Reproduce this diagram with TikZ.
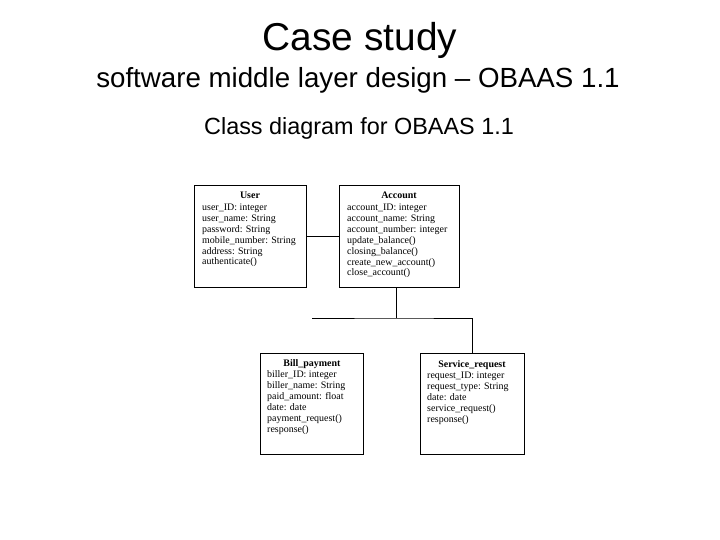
\documentclass[tikz,border=0pt]{standalone}
\usepackage{fontspec}
\setmainfont{Liberation Serif}
\newfontfamily\arialfont{Liberation Sans}
\begin{document}
\begin{tikzpicture}[x=1bp,y=-1bp,
  classbox/.style={draw=black,line width=0.9bp,rectangle,inner sep=0pt,anchor=north west},
  ctitle/.style={font=\fontsize{10}{11}\selectfont\bfseries,anchor=base,inner sep=0pt},
  cbody/.style={font=\fontsize{10}{11}\selectfont,anchor=base west,align=left,inner sep=0pt},
  conn/.style={draw=black,line width=0.9bp}]
\useasboundingbox (0,0) rectangle (720,540);
% titles
\node[font=\arialfont\fontsize{39}{42}\selectfont,anchor=base] (t1) at (360,51) {Case study};
\node[font=\arialfont\fontsize{27.8}{30}\selectfont,anchor=base] (t2) at (358,88) {software middle layer design – OBAAS 1.1};
\node[font=\arialfont\fontsize{23.5}{26}\selectfont,anchor=base] (t3) at (359,135) {Class diagram for OBAAS 1.1};
% boxes
\node[classbox,minimum width=112bp,minimum height=102bp] (user) at (194,185) {};
\node[classbox,minimum width=120bp,minimum height=102bp] (account) at (339,185) {};
\node[classbox,minimum width=103bp,minimum height=101bp] (bill) at (260,353) {};
\node[classbox,minimum width=104bp,minimum height=101bp] (service) at (420,353) {};
% User (base anchor = baseline of last line)
\node[ctitle] (usert) at (250,199) {User};
\node[cbody] (userb) at (202,265) {user\_ID: integer\\user\_name: String\\password: String\\mobile\_number: String\\address: String\\authenticate()};
% Account
\node[ctitle] (acct) at (399,199) {Account};
\node[cbody] (accb) at (347,276) {account\_ID: integer\\account\_name: String\\account\_number: integer\\update\_balance()\\closing\_balance()\\create\_new\_account()\\close\_account()};
% Bill
\node[ctitle] (billt) at (312,366) {Bill\_payment};
\node[cbody] (billb) at (267,432) {biller\_ID: integer\\biller\_name: String\\paid\_amount: float\\date: date\\payment\_request()\\response()};
% Service
\node[ctitle] (servt) at (472,367) {Service\_request};
\node[cbody] (servb) at (427,422) {request\_ID: integer\\request\_type: String\\date: date\\service\_request()\\response()};
% connectors
\coordinate (hub) at (396,318);
\coordinate (lend) at (312,318);
\draw[conn] (user.east) -- (account.west);
\draw[conn] (account.south -| hub) -- (hub);
\draw[conn] (lend) -- (hub) -| (service.north);
\end{tikzpicture}
\end{document}
